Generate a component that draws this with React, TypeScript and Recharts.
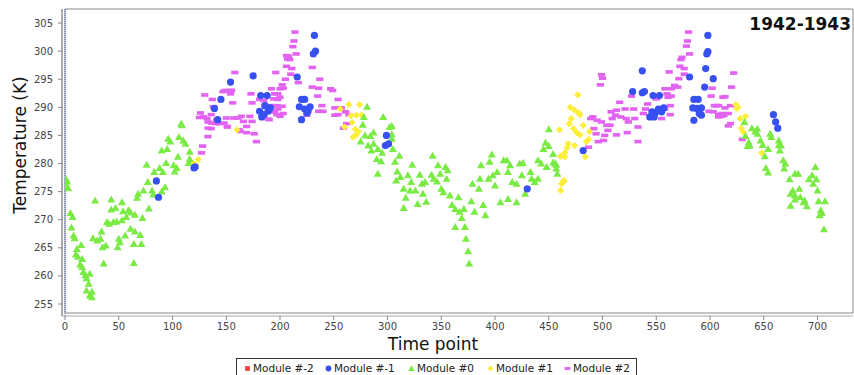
import React from 'react';
import { ScatterChart, Scatter, XAxis, YAxis, ReferenceArea, ReferenceLine } from 'recharts';

// [time point, temperature K]
type Pt = [number, number];

const moduleMinus2: Pt[] = [];

const moduleMinus1: Pt[] = [
  [85, 276.9], [87, 274.0], [120, 279.2], [121, 279.4], [139, 289.8], [142, 287.8], [145, 291.4], [154, 294.5],
  [175, 295.6], [182, 292.1], [188, 292.1], [186, 290.3], [191, 289.9], [181, 289.3], [185, 288.7], [183, 288.3],
  [189, 289.3], [232, 302.8], [233, 300.0], [231, 299.5], [216, 295.4], [220, 291.4], [223, 291.4], [218, 290.1],
  [223, 289.7], [228, 290.1], [225, 289.0], [220, 287.8], [226, 289.4], [299, 285.0], [298, 283.2], [301, 283.5],
  [430, 275.5], [482, 282.3], [537, 296.5], [528, 292.8], [537, 292.6], [539, 292.8], [547, 292.1], [553, 292.1],
  [546, 289.2], [549, 289.0], [554, 289.6], [557, 289.9], [544, 288.3], [548, 288.3], [552, 289.7], [555, 289.2],
  [598, 302.8], [598, 299.9], [597, 299.5], [596, 296.9], [603, 295.1], [595, 293.6], [581, 295.4], [585, 291.4],
  [589, 291.4], [584, 289.9], [588, 289.8], [592, 289.9], [590, 288.9], [585, 287.7], [592, 288.6], [659, 288.7],
  [661, 287.4], [663, 286.3],
];

const module0: Pt[] = [
  [1, 276.0], [2, 276.8], [3, 275.6], [1, 277.2], [5, 271.2], [7, 270.5], [6, 268.6], [8, 267.2], [9, 266.7],
  [11, 264.8], [15, 265.5], [10, 263.8], [12, 263.4], [16, 263.0], [14, 262.0], [16, 261.6], [17, 260.7], [19, 260.1],
  [23, 260.4], [20, 259.6], [22, 258.6], [20, 257.4], [25, 257.2], [25, 256.2], [23, 256.5], [28, 273.4], [43, 273.6],
  [53, 273.1], [43, 271.8], [47, 272.1], [54, 271.5], [59, 271.7], [61, 271.3], [65, 270.9], [72, 270.3], [78, 272.0],
  [39, 269.6], [41, 269.3], [45, 269.6], [48, 269.7], [53, 269.9], [57, 270.5], [34, 267.9], [26, 266.7], [30, 266.3],
  [33, 266.6], [35, 265.1], [38, 265.4], [50, 266.6], [51, 266.0], [49, 265.1], [56, 267.2], [61, 268.4], [65, 267.9],
  [70, 267.3], [64, 265.7], [71, 265.7], [64, 262.3], [36, 262.2], [68, 274.6], [73, 275.2], [67, 273.9], [77, 276.7],
  [81, 275.2], [82, 274.5], [90, 275.0], [93, 275.8], [76, 279.8], [83, 278.5], [88, 279.2], [91, 278.5], [94, 280.1],
  [101, 279.7], [102, 278.6], [104, 279.2], [105, 281.2], [115, 280.1], [116, 280.8], [116, 282.1], [90, 282.3],
  [95, 282.6], [98, 283.9], [96, 284.4], [106, 284.7], [110, 284.1], [112, 283.5], [108, 287.1], [109, 286.8],
  [281, 290.1], [296, 288.3], [278, 288.3], [277, 286.9], [302, 286.5], [279, 285.0], [284, 284.9], [287, 285.5],
  [275, 283.9], [282, 283.2], [287, 283.5], [285, 282.3], [291, 282.6], [295, 281.9], [290, 280.8], [294, 280.4],
  [291, 278.2], [305, 282.6], [304, 284.4], [307, 280.3], [304, 286.7], [304, 285.2], [311, 281.4], [309, 278.6],
  [308, 277.0], [312, 277.6], [315, 275.5], [317, 273.9], [315, 272.1], [319, 277.9], [322, 276.7], [323, 279.8],
  [326, 275.2], [328, 272.8], [330, 278.0], [332, 276.4], [333, 274.6], [336, 273.2], [341, 278.0], [342, 281.4],
  [346, 276.8], [347, 279.7], [349, 278.2], [350, 275.5], [352, 274.9], [354, 279.4], [356, 278.8], [355, 277.3],
  [358, 274.3], [360, 272.6], [363, 271.9], [366, 274.0], [367, 271.4], [369, 270.3], [363, 268.7], [372, 268.7],
  [373, 266.6], [375, 264.4], [376, 262.2], [379, 276.4], [378, 273.3], [381, 271.4], [385, 275.5], [386, 277.3],
  [389, 272.6], [391, 270.8], [387, 279.7], [395, 280.3], [397, 281.6], [394, 277.3], [398, 277.9], [402, 278.5],
  [400, 276.1], [408, 280.6], [411, 280.6], [412, 278.5], [414, 279.7], [416, 276.7], [405, 273.1], [412, 273.7],
  [420, 273.1], [420, 276.4], [423, 280.0], [426, 280.1], [425, 277.9], [428, 274.6], [433, 278.5], [434, 277.3],
  [437, 276.7], [440, 277.3], [440, 280.6], [443, 280.0], [445, 282.6], [450, 286.1], [447, 283.7], [450, 283.1],
  [454, 281.7], [454, 280.2], [457, 279.8], [448, 279.4], [321, 275.2], [335, 276.7], [343, 277.3], [371, 271.9],
  [456, 280.0], [457, 279.1], [458, 278.2], [632, 287.4], [633, 284.9], [636, 283.8], [637, 283.2], [635, 283.1],
  [639, 286.3], [642, 285.7], [644, 286.2], [644, 285.3], [647, 284.1], [649, 283.3], [651, 281.3], [654, 282.6],
  [652, 279.2], [654, 278.4], [656, 285.3], [657, 284.7], [664, 284.1], [666, 283.2], [664, 283.3], [665, 282.3],
  [668, 280.6], [670, 280.0], [669, 279.1], [674, 277.2], [679, 278.2], [682, 278.2], [675, 274.6], [677, 275.2],
  [679, 274.3], [675, 272.5], [683, 275.5], [684, 274.0], [687, 273.1], [688, 273.4], [690, 272.4], [698, 279.4],
  [695, 277.9], [692, 277.2], [699, 277.2], [696, 276.4], [700, 275.2], [701, 273.3], [707, 273.3], [703, 271.7],
  [704, 271.2], [702, 270.8], [706, 268.3], [679, 273.6],
];

const module1: Pt[] = [
  [119, 280.1], [124, 280.7], [122, 279.6], [160, 286.0], [256, 289.7], [264, 290.5], [274, 290.5], [266, 288.5],
  [271, 288.6], [276, 288.6], [267, 287.3], [260, 286.5], [270, 286.1], [273, 285.7], [268, 284.7], [271, 285.1],
  [460, 286.0], [464, 276.8], [477, 292.2], [470, 290.0], [474, 289.5], [478, 289.0], [479, 288.7], [471, 288.0],
  [469, 287.1], [473, 286.2], [476, 285.5], [479, 285.1], [482, 286.8], [488, 285.7], [487, 284.3], [485, 283.9],
  [468, 283.5], [467, 282.8], [465, 281.9], [461, 281.3], [465, 281.2], [474, 283.2], [484, 281.2], [464, 277.0],
  [462, 276.4], [461, 275.2], [624, 290.5], [626, 290.0], [625, 289.8], [628, 288.0], [633, 288.4], [629, 286.3],
  [631, 285.6], [648, 281.9],
];

const module2: Pt[] = [
  [130, 292.2], [137, 291.4], [147, 292.8], [126, 289.0], [125, 288.2], [132, 288.0], [133, 287.4], [140, 287.1],
  [144, 287.1], [136, 288.7], [138, 290.1], [150, 288.1], [151, 286.5], [136, 286.2], [133, 284.8], [128, 283.1],
  [127, 281.9], [158, 296.2], [154, 293.0], [154, 292.4], [156, 290.8], [173, 292.4], [129, 288.3], [141, 287.8],
  [157, 288.1], [161, 288.1], [164, 288.4], [166, 287.5], [172, 288.4], [174, 287.5], [169, 286.6], [163, 285.7],
  [169, 285.5], [176, 285.3], [178, 283.9], [185, 288.5], [189, 287.9], [181, 291.4], [186, 290.3], [133, 286.3],
  [136, 287.2], [148, 287.2], [151, 286.6], [162, 286.0], [200, 288.4], [196, 296.2], [206, 299.2], [207, 298.6],
  [206, 297.3], [202, 294.0], [203, 293.4], [205, 295.0], [195, 292.4], [198, 291.4], [192, 293.3], [197, 290.3],
  [202, 290.2], [203, 288.9], [214, 303.4], [213, 301.8], [212, 300.8], [215, 299.5], [208, 299.1], [209, 298.5],
  [211, 296.9], [210, 295.9], [200, 293.3], [198, 292.4], [200, 291.8], [194, 291.5], [198, 289.7], [192, 290.3],
  [195, 289.2], [197, 288.7], [190, 287.8], [185, 291.2], [174, 290.8], [149, 293.0], [155, 293.0], [230, 297.1],
  [237, 295.0], [217, 294.4], [230, 293.6], [236, 293.4], [247, 293.3], [249, 293.0], [235, 292.0], [254, 291.4],
  [239, 290.3], [236, 289.3], [240, 289.3], [226, 289.2], [225, 288.6], [251, 289.9], [257, 289.9], [251, 288.6],
  [254, 288.7], [261, 289.2], [264, 288.7], [262, 287.1], [259, 286.3], [499, 295.8], [500, 295.2], [498, 294.0],
  [491, 288.3], [489, 288.0], [495, 287.7], [492, 286.2], [494, 285.3], [496, 283.9], [501, 284.1], [502, 285.0],
  [505, 285.9], [507, 286.8], [509, 288.0], [512, 288.6], [508, 289.2], [513, 289.5], [516, 290.9], [521, 289.7],
  [517, 288.3], [522, 288.0], [524, 287.4], [529, 289.7], [530, 288.0], [533, 286.5], [523, 285.5], [513, 285.1],
  [533, 283.9], [527, 292.0], [487, 282.9], [504, 286.8], [499, 287.4], [580, 303.4], [579, 301.8], [578, 300.9],
  [581, 299.5], [574, 298.9], [573, 298.5], [572, 297.3], [576, 296.9], [562, 296.3], [571, 295.1], [576, 295.9],
  [567, 293.9], [570, 293.6], [564, 293.3], [558, 293.3], [560, 292.4], [561, 291.8], [564, 292.0], [563, 290.3],
  [558, 289.7], [563, 288.7], [542, 290.6], [540, 289.7], [538, 288.9], [550, 291.5], [555, 288.0], [602, 293.4],
  [601, 292.0], [604, 290.3], [608, 290.3], [599, 289.3], [603, 289.2], [608, 288.7], [611, 288.4], [612, 291.8],
  [622, 296.1], [620, 293.6], [614, 291.9], [606, 290.3], [614, 289.9], [619, 290.3], [617, 288.9], [611, 288.9],
  [608, 288.3], [613, 288.6], [619, 287.1], [617, 286.7], [630, 284.3],
];

const xTicks = [0, 50, 100, 150, 200, 250, 300, 350, 400, 450, 500, 550, 600, 650, 700];
const yTicks = [255, 260, 265, 270, 275, 280, 285, 290, 295, 300, 305];
const X_MAX = 733;
const Y_MIN = 253.4;
const Y_MAX = 307.5;

type Shape = 'square' | 'circle' | 'triangle' | 'diamond' | 'bar';

const series: { name: string; color: string; shape: Shape; points: Pt[] }[] = [
  { name: 'Module #-2', color: '#ee4444', shape: 'square', points: moduleMinus2 },
  { name: 'Module #-1', color: '#3650f2', shape: 'circle', points: moduleMinus1 },
  { name: 'Module #0', color: '#7aea44', shape: 'triangle', points: module0 },
  { name: 'Module #1', color: '#fdee3a', shape: 'diamond', points: module1 },
  { name: 'Module #2', color: '#e262f2', shape: 'bar', points: module2 },
];

// left edge of each legend entry inside the legend box
const legendOffsets = [6, 87, 170, 249, 326];

const FONT = '"DejaVu Sans", sans-serif';

function marker(shape: Shape, color: string, cx: number, cy: number, s = 1) {
  switch (shape) {
    case 'square':
      return <rect x={cx - 3 * s} y={cy - 3 * s} width={6 * s} height={6 * s} fill={color} />;
    case 'circle':
      return <circle cx={cx} cy={cy} r={3.6 * s} fill={color} />;
    case 'triangle':
      return <path d={`M${cx},${cy - 4 * s}L${cx + 4 * s},${cy + 3 * s}L${cx - 4 * s},${cy + 3 * s}Z`} fill={color} />;
    case 'diamond':
      return <path d={`M${cx},${cy - 3.6 * s}L${cx + 3.6 * s},${cy}L${cx},${cy + 3.6 * s}L${cx - 3.6 * s},${cy}Z`} fill={color} />;
    default:
      return <rect x={cx - 3.6 * s} y={cy - 1.8 * s} width={7.2 * s} height={3.6 * s} fill={color} />;
  }
}

const Legend = () => (
  <div
    style={{
      position: 'absolute', left: 236, top: 358, width: 401, height: 20,
      border: '1px solid #333', boxSizing: 'border-box', background: '#fff',
      fontFamily: FONT, fontSize: 10.5, color: '#222',
    }}
  >
    {series.map((s, i) => (
      <div
        key={s.name}
        style={{ position: 'absolute', left: legendOffsets[i], top: 2, display: 'flex', alignItems: 'center', height: 14 }}
      >
        <svg width={9} height={9} style={{ marginRight: 1 }}>
          {marker(s.shape, s.color, 4.5, 4.5, 0.8)}
        </svg>
        <span style={{ whiteSpace: 'pre' }}>{s.name}</span>
      </div>
    ))}
  </div>
);

export default function App() {
  // later series are drawn first so Module #-1 circles sit on top
  const drawOrder = [...series].reverse();
  return (
    <div style={{ position: 'absolute', left: 0, top: 0, width: 854, height: 375, background: '#fff', overflow: 'hidden' }}>
      <ScatterChart width={854} height={375} margin={{ top: 9, right: 1, bottom: 29, left: 0 }}>
        <XAxis
          type="number"
          dataKey="x"
          domain={[0, X_MAX]}
          ticks={xTicks}
          padding={{ left: 3, right: 0 }}
          height={30}
          tickSize={4}
          tickMargin={3}
          tick={{ fontSize: 10, fill: '#444', fontFamily: FONT }}
          tickLine={{ stroke: '#888' }}
          axisLine={{ stroke: '#aaa' }}
          allowDataOverflow
        />
        <YAxis
          type="number"
          dataKey="y"
          domain={[Y_MIN, Y_MAX]}
          ticks={yTicks}
          padding={{ top: 0, bottom: 3 }}
          width={62}
          tickSize={4}
          tickMargin={5}
          tick={{ fontSize: 10, fill: '#444', fontFamily: FONT }}
          tickLine={{ stroke: '#888' }}
          axisLine={{ stroke: '#aaa', strokeWidth: 2 }}
          allowDataOverflow
        />
        <ReferenceArea x1={0} x2={X_MAX} y1={Y_MIN} y2={Y_MAX} fill="none" stroke="#888" />
        <ReferenceLine x={0} stroke="#5566bb" strokeDasharray="1 1" />
        {drawOrder.map((s) => (
          <Scatter
            key={s.name}
            name={s.name}
            data={s.points.map(([x, y]) => ({ x, y }))}
            fill={s.color}
            isAnimationActive={false}
            shape={(p: any) => marker(s.shape, s.color, p.cx, p.cy)}
          />
        ))}
      </ScatterChart>
      <svg width={854} height={375} style={{ position: 'absolute', left: 0, top: 0, pointerEvents: 'none' }}>
        <text x={851} y={29.5} textAnchor="end" fontFamily={FONT} fontWeight="bold" fontSize={17} fill="#111">
          1942-1943
        </text>
        <text x={433} y={350} textAnchor="middle" fontFamily={FONT} fontSize={17} fill="#111">
          Time point
        </text>
        <text x={26} y={145} textAnchor="middle" fontFamily={FONT} fontSize={17} fill="#111" transform="rotate(-90 26 145)">
          Temperature (K)
        </text>
      </svg>
      <Legend />
    </div>
  );
}
